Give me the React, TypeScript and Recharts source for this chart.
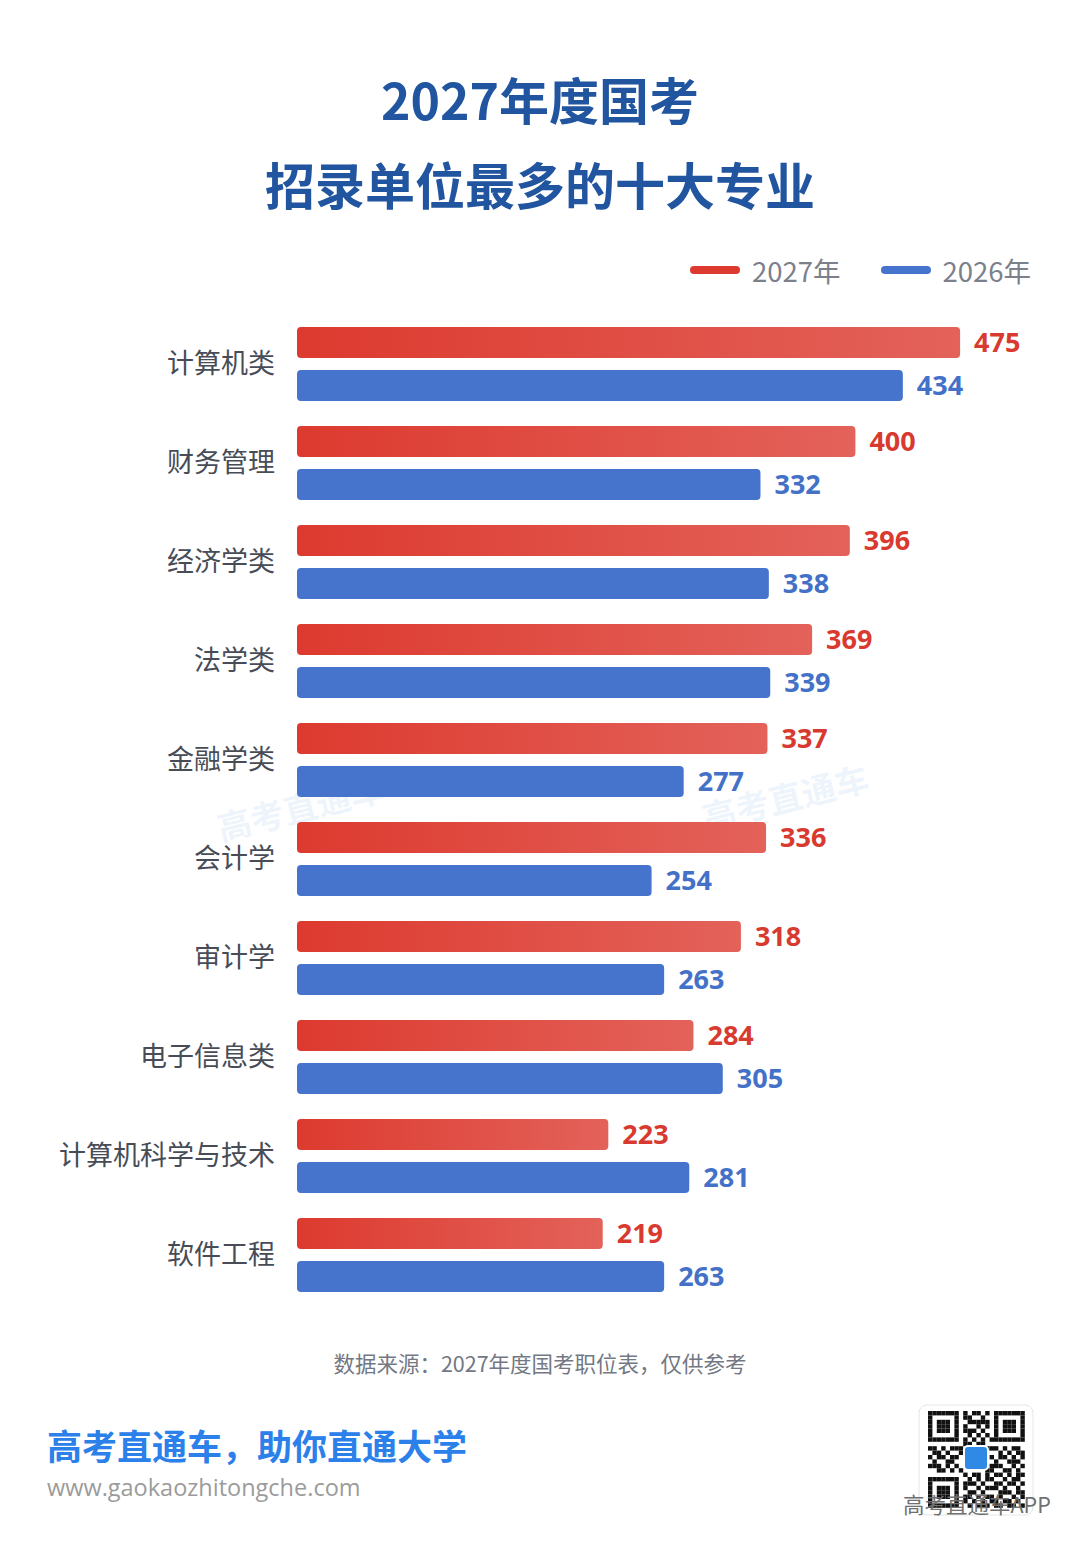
import React from 'react';
import { BarChart, Bar, XAxis, YAxis, LabelList } from 'recharts';

const majors = ['计算机类', '财务管理', '经济学类', '法学类', '金融学类', '会计学', '审计学', '电子信息类', '计算机科学与技术', '软件工程'];
const units2027 = [475, 400, 396, 369, 337, 336, 318, 284, 223, 219];
const units2026 = [434, 332, 338, 339, 277, 254, 263, 305, 281, 263];

const RED = '#dc3a2f';
const BLUE = '#4674cc';
const CJK = '"Noto Sans CJK SC", "Noto Sans", sans-serif';

const data = majors.map((name, i) => ({ name, y2027: units2027[i], y2026: units2026[i] }));

// left-hand category labels
const MajorTick = (props: any) => {
  const { x, y, payload } = props;
  return (
    <text x={x - 14} y={y} dy={9} textAnchor="end" fill="#474c57" fontSize={27} fontFamily={CJK}>
      {payload.value}
    </text>
  );
};

const LegendBox = () => (
  <div style={{ position: 'absolute', top: 250, left: 690, display: 'flex', alignItems: 'center', fontFamily: CJK, fontSize: 27.5, color: '#7b808b' }}>
    <span style={{ width: 50, height: 8, borderRadius: 4, background: RED, display: 'inline-block', marginRight: 12 }} />
    <span>2027年</span>
    <span style={{ width: 50, height: 8, borderRadius: 4, background: BLUE, display: 'inline-block', marginLeft: 40, marginRight: 12 }} />
    <span>2026年</span>
  </div>
);

// decorative qr block (fixed pattern)
const qrRows = [
  '1111111010110101111111',
  '1000001011001001000001',
  '1011101001111101011101',
  '1011101010010101011101',
  '1011101011101001011101',
  '1000001001010101000001',
  '1111111010101011111111',
  '0000000011011000000000',
  '1101011100110111010110',
  '0110100111001000101011',
  '1011011000000010110101',
  '0100110000000001001110',
  '1110101000000011100101',
  '0011010100000110011010',
  '0000000010110101101011',
  '1111111001010110010110',
  '1000001011101001101101',
  '1011101010010111010010',
  '1011101001101000111011',
  '1011101011010110100101',
  '1000001010101011011010',
  '1111111001011101101101',
];

const QrCode = () => (
  <svg width={116} height={112} style={{ position: 'absolute', left: 918, top: 1404 }}>
    <rect x={1} y={1} width={114} height={110} rx={8} fill="#fff" stroke="#e6e6e6" />
    {qrRows.map((row, r) =>
      row.split('').map((c, k) =>
        c === '1' ? <rect key={`${r}-${k}`} x={10 + k * 4.4} y={7 + r * 4.4} width={4.4} height={4.4} fill="#111" /> : null
      )
    )}
    <rect x={46} y={42} width={24} height={24} rx={4} fill="#2f8ae6" stroke="#fff" strokeWidth={2} />
  </svg>
);

export default function App() {
  return (
    <div style={{ position: 'absolute', left: 0, top: 0, width: 1080, height: 1544, background: '#fff', overflow: 'hidden' }}>
      <div style={{ position: 'absolute', top: 56, width: 1080, textAlign: 'center', fontFamily: CJK, fontWeight: 700, color: '#21559f', fontSize: 50, lineHeight: '85px' }}>
        <div>2027年度国考</div>
        <div>招录单位最多的十大专业</div>
      </div>

      <LegendBox />

      {/* faint watermark */}
      <div style={{ position: 'absolute', left: 215, top: 782, transform: 'rotate(-14deg)', fontFamily: CJK, fontWeight: 700, fontSize: 34, color: 'rgba(120,170,225,0.13)' }}>高考直通车</div>
      <div style={{ position: 'absolute', left: 700, top: 772, transform: 'rotate(-14deg)', fontFamily: CJK, fontWeight: 700, fontSize: 34, color: 'rgba(120,170,225,0.13)' }}>高考直通车</div>

      <div style={{ position: 'absolute', left: 0, top: 0 }}>
        <BarChart width={1080} height={1544} data={data} layout="vertical" margin={{ top: 314, right: 85, bottom: 240, left: 0 }} barSize={31} barGap={12}>
          <defs>
            <linearGradient id="redGrad" x1="0" y1="0" x2="1" y2="0">
              <stop offset="0%" stopColor="#dd3a2f" />
              <stop offset="100%" stopColor="#e3625a" />
            </linearGradient>
          </defs>
          <XAxis type="number" domain={[0, 500]} hide />
          <YAxis type="category" dataKey="name" width={297} axisLine={false} tickLine={false} tick={<MajorTick />} interval={0} />
          <Bar dataKey="y2027" name="2027年" fill="url(#redGrad)" radius={4} isAnimationActive={false}>
            <LabelList dataKey="y2027" position="right" offset={14} fill="#d93a2f" fontSize={27} fontWeight={700} fontFamily="'Noto Sans', sans-serif" />
          </Bar>
          <Bar dataKey="y2026" name="2026年" fill={BLUE} radius={4} isAnimationActive={false}>
            <LabelList dataKey="y2026" position="right" offset={14} fill="#4471c8" fontSize={27} fontWeight={700} fontFamily="'Noto Sans', sans-serif" />
          </Bar>
        </BarChart>
      </div>

      <div style={{ position: 'absolute', top: 1347, width: 1080, textAlign: 'center', fontFamily: CJK, fontSize: 21.5, color: '#737884' }}>
        数据来源：2027年度国考职位表，仅供参考
      </div>

      <div style={{ position: 'absolute', left: 47, top: 1419, fontFamily: CJK, fontWeight: 700, fontSize: 35, color: '#2b80ea' }}>
        高考直通车，助你直通大学
      </div>
      <div style={{ position: 'absolute', left: 47, top: 1471, fontFamily: '"Open Sans", sans-serif', fontSize: 23.5, color: '#9b9b9b' }}>
        www.gaokaozhitongche.com
      </div>

      <QrCode />
      <div style={{ position: 'absolute', left: 903, top: 1488, fontFamily: CJK, fontSize: 21.5, color: '#707070' }}>高考直通车APP</div>
    </div>
  );
}
